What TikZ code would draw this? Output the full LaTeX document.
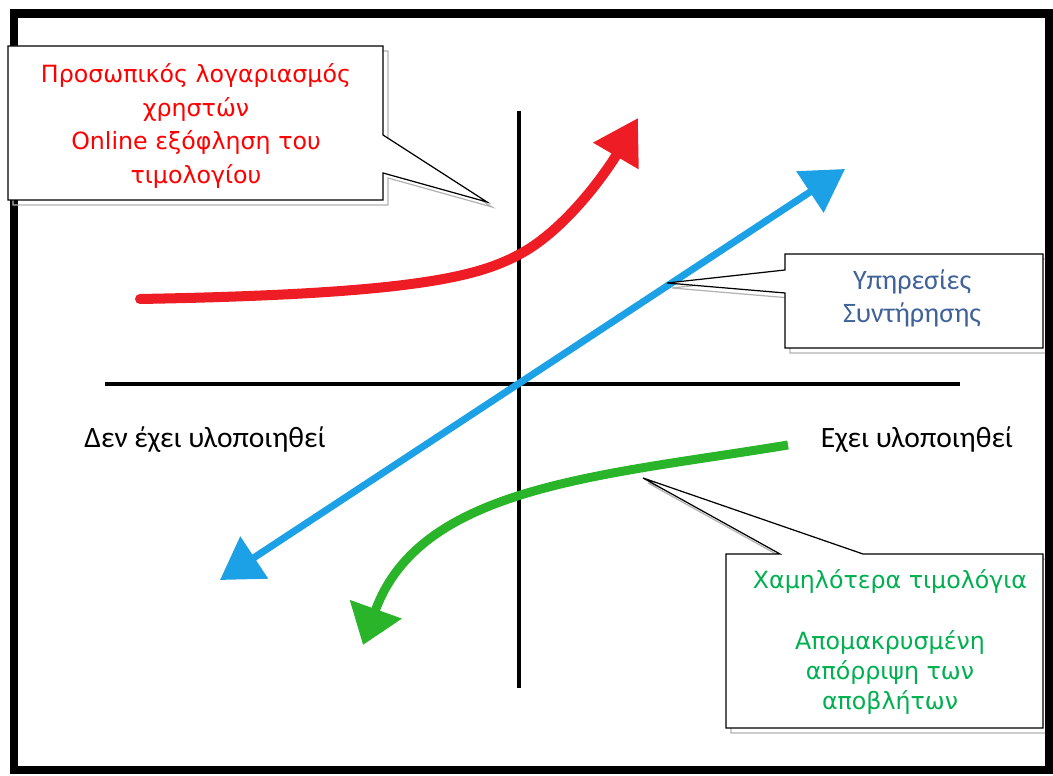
\documentclass[tikz,border=0pt]{standalone}
\usepackage{fontspec}
\setmainfont{Carlito}
\newfontfamily\boxfont{DejaVu Sans}
\usepackage{xcolor}
\usetikzlibrary{arrows.meta,positioning}
\definecolor{curvered}{HTML}{EE1C24}
\definecolor{curveblue}{HTML}{1DA1E6}
\definecolor{curvegreen}{HTML}{2AB42A}
\definecolor{textred}{HTML}{FF0000}
\definecolor{textgreen}{HTML}{00B050}
\definecolor{textblue}{HTML}{3F6399}

\begin{document}
\begin{tikzpicture}[x=0.02cm,y=0.02cm,
  axis/.style={line width=2.3pt,black},
  calloutbox/.style={draw=black,fill=white,line width=0.7pt},
  calloutshadow/.style={draw=gray!60,line width=0.7pt,xshift=0.1cm,yshift=-0.1cm},
  boxtext/.style={align=center,inner sep=0pt}]
  \useasboundingbox (0,0) rectangle (1053,776);
  % frame
  \draw[line width=5.1pt] (14,762.5) rectangle (1049,6);

  % axes
  \coordinate (ytop) at (519,665);
  \coordinate (ybot) at (519,88);
  \coordinate (xleft) at (105,392);
  \coordinate (xright) at (960,392);
  \draw[axis] (ytop) -- (ybot);
  \draw[axis] (xleft) -- (xright);

  % the three trends
  \coordinate (redstart) at (140,477);
  \coordinate (redtip) at (638,658);
  \coordinate (bluelow) at (220,196);
  \coordinate (bluehigh) at (845,607);
  \coordinate (greenstart) at (788,331);
  \coordinate (greentip) at (363,131);
  \draw[curvered,line width=5.7pt,line cap=round,-{Triangle[length=0.88cm,width=1cm]}]
    (redstart) .. controls (420,482) and (480,500) .. (522,523)
    .. controls (570,550) and (610,610) .. (redtip);
  \draw[curveblue,line width=4pt,{Triangle[length=0.82cm,width=0.98cm]}-{Triangle[length=0.84cm,width=0.96cm]}]
    (bluelow) -- (bluehigh);
  \draw[curvegreen,line width=5.1pt,-{Triangle[length=0.76cm,width=1.06cm]}]
    (greenstart) .. controls (600,300) and (420,290) .. (greentip);

  % callouts
  \begin{scope}
    \clip (0,0) rectangle (1045,776);
    \foreach \st in {calloutshadow,calloutbox}{
      \draw[\st] (8,730) -- (383,730) -- (383,641) -- (487,574) -- (383,603)
        -- (383,576) -- (8,576) -- cycle;
      \draw[\st] (785,522) -- (1043,522) -- (1043,428) -- (785,428) -- (785,483)
        -- (667,493) -- (785,506) -- cycle;
      \draw[\st] (726,222) -- (780,222) -- (643,298) -- (863,222) -- (1043,222)
        -- (1043,48) -- (726,48) -- cycle;
    }
  \end{scope}

  % texts
  \node[boxtext,textred,font=\boxfont\fontsize{13.5pt}{19.3pt}\selectfont] (redtext) at (196,650)
    {Προσωπικός λογαριασμός\\χρηστών\\Online εξόφληση του\\τιμολογίου};
  \node[boxtext,textblue,font=\fontsize{16pt}{18.7pt}\selectfont] (bluetext) at (912,478)
    {Υπηρεσίες\\Συντήρησης};
  \node[boxtext,textgreen,font=\boxfont\fontsize{13.5pt}{17.3pt}\selectfont] (greentext) at (890,134)
    {Χαμηλότερα τιμολόγια\\[17.3pt]Απομακρυσμένη\\απόρριψη των\\αποβλήτων};
  \node[font=\fontsize{16.8pt}{19pt}\selectfont] (notdone) at (205,336) {Δεν έχει υλοποιηθεί};
  \node[font=\fontsize{16.8pt}{19pt}\selectfont] (done) at (917,336) {Εχει υλοποιηθεί};
\end{tikzpicture}
\end{document}
